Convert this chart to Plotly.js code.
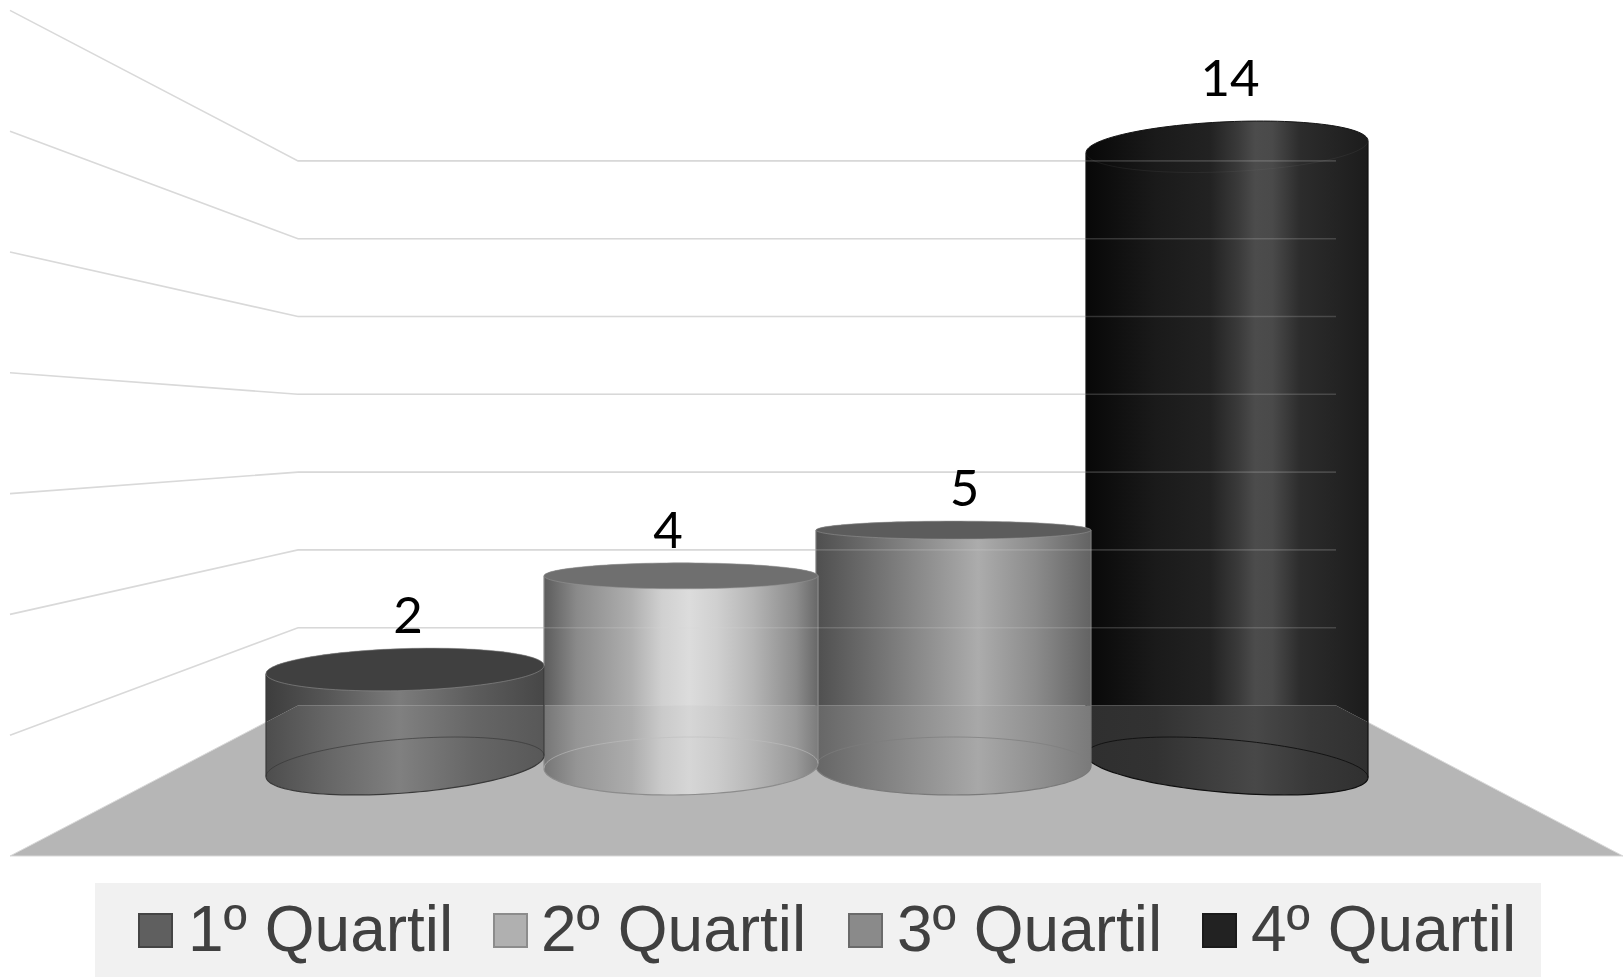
<!DOCTYPE html>
<html>
<head>
<meta charset="utf-8">
<script src="https://cdn.plot.ly/plotly-3.0.1.min.js"></script>
<style>html,body{margin:0;padding:0;background:#fff}#chart{width:1623px;height:977px}</style>
</head>
<body>
<div id="chart"></div>
<script>
// Chart content
const categories = ['1º Quartil', '2º Quartil', '3º Quartil', '4º Quartil'];
const values = [2, 4, 5, 14];
const wallTicks = [2, 4, 6, 8, 10, 12, 14];

// Cylinder geometry, in scene units (one unit per pixel)
const leftEdges = [266, 544, 816, 1086];
const rightEdges = [544, 818, 1091, 1368];
const baseTilt = [10.5, 2.5, 0, -11.5];
const baseMinor = [27, 28.9, 29, 26.6];
const capMinor = [21, 13, 9, 25];
const capTilt = [4, 0, 0, 6];
const labelDx = [3, -13, 11, 3];
const labelDy = [28, 28, 28, 39];

// Shading of each cylinder: above the floor line, inside the floor zone, top face, outline
const bodyShades = [
  [[0, '#3d3d3d'], [0.22, '#565656'], [0.48, '#7c7c7c'], [0.75, '#5c5c5c'], [1, '#474747']],
  [[0, '#5c5c5c'], [0.12, '#8a8a8a'], [0.32, '#afafaf'], [0.43, '#d0d0d0'], [0.53, '#dcdcdc'], [0.63, '#d0d0d0'], [0.76, '#b6b6b6'], [0.92, '#8c8c8c'], [1, '#686868']],
  [[0, '#4f4f4f'], [0.2, '#6e6e6e'], [0.59, '#acacac'], [0.8, '#8b8b8b'], [1, '#636363']],
  [[0, '#080808'], [0.25, '#1a1a1a'], [0.44, '#222222'], [0.54, '#3a3a3a'], [0.6, '#4c4c4c'], [0.66, '#4a4a4a'], [0.76, '#2c2c2c'], [1, '#1c1c1c']]
];
const floorShades = [
  [[0, '#4d4d4d'], [0.22, '#666666'], [0.48, '#808080'], [0.75, '#666666'], [1, '#585858']],
  [[0, '#767676'], [0.12, '#959595'], [0.32, '#adadad'], [0.43, '#cacaca'], [0.53, '#d6d6d6'], [0.63, '#cccccc'], [0.76, '#b8b8b8'], [0.92, '#999999'], [1, '#7c7c7c']],
  [[0, '#666666'], [0.2, '#7c7c7c'], [0.59, '#a8a8a8'], [0.8, '#919191'], [1, '#7a7a7a']],
  [[0, '#2f2f2f'], [0.25, '#323232'], [0.6, '#484848'], [0.8, '#383838'], [1, '#303030']]
];
const capColors = ['#404040', '#6f6f6f', '#5c5c5c', null];
const outlineColors = ['#3a3a3a', '#8c8c8c', '#7a7a7a', '#101010'];
const backArcColors = ['rgba(50,50,50,.6)', 'rgba(190,190,190,.6)', 'rgba(125,125,125,.7)', 'rgba(15,15,15,.9)'];
const swatchFills = ['#5f5f5f', '#b0b0b0', '#8a8a8a', '#222222'];
const swatchLines = ['#444444', '#8c8c8c', '#6a6a6a', '#1a1a1a'];
const swatchLeft = [139, 494, 849, 1203];
const legendTextLeft = [187, 540, 896, 1250];

// Scene frame: floor, back wall and perspective of the value scale
const floorFrontY = 856, floorBackY = 705.5, frontLeftX = 10, frontRightX = 1623;
const backLeftX = 298, backRightX = 1336, baseY = 766;
const backY = v => floorBackY - 38.9 * v;
const frontY = v => floorFrontY - 60.4 * v;
const cylinderHeight = v => 49 * v / (1 + 0.0077 * v);

function seamY(x) {
  if (x < backLeftX) return floorBackY + (backLeftX - x) * (floorFrontY - floorBackY) / (backLeftX - frontLeftX);
  if (x > backRightX) return floorBackY + (x - backRightX) * (floorFrontY - floorBackY) / (frontRightX - backRightX);
  return floorBackY;
}

// Arc of a sheared ellipse from angle t0 to t1
function arc(cx, cy, a, b, tilt, t0, t1) {
  const xs = [], ys = [], n = 60;
  for (let k = 0; k <= n; k++) {
    const t = t0 + (t1 - t0) * k / n;
    xs.push(cx + a * Math.cos(t));
    ys.push(cy - b * Math.sin(t) - tilt * Math.cos(t));
  }
  return [xs, ys];
}

function seamPath(x0, x1) {
  const xs = [x0];
  if (x0 < backLeftX && x1 > backLeftX) xs.push(backLeftX);
  if (x0 < backRightX && x1 > backRightX) xs.push(backRightX);
  xs.push(x1);
  return [xs, xs.map(seamY)];
}

const traces = [];
const flat = (x, y, color, width) => ({
  x, y, type: 'scatter', mode: 'lines', hoverinfo: 'skip',
  line: { color, width, simplify: false }
});

// Side wall and back wall gridlines
wallTicks.forEach(v => {
  traces.push(flat([frontLeftX, backLeftX, backRightX], [frontY(v), backY(v), backY(v)], '#d9d9d9', 1.6));
});

// Floor
traces.push(Object.assign(flat(
  [frontLeftX, backLeftX, backRightX, frontRightX, frontLeftX],
  [floorFrontY, floorBackY, floorBackY, floorFrontY, floorFrontY], '#d9d9d9', 1), {
  fill: 'toself', fillcolor: '#b6b6b6'
}));

// Cylinders, nearest neighbour last so each one overlaps the next to its right
[3, 2, 1, 0].forEach(i => {
  const x0 = leftEdges[i], x1 = rightEdges[i];
  const cx = (x0 + x1) / 2, a = (x1 - x0) / 2;
  const topY = baseY - cylinderHeight(values[i]);
  const capUp = arc(cx, topY, a, capMinor[i], capTilt[i], Math.PI, 0);
  const capDown = arc(cx, topY, a, capMinor[i], capTilt[i], 0, -Math.PI);
  const baseFront = arc(cx, baseY, a, baseMinor[i], baseTilt[i], 0, -Math.PI);
  const baseBack = arc(cx, baseY, a, baseMinor[i], baseTilt[i], Math.PI, 0);
  const seam = seamPath(x0, x1);

  // Part standing against the wall
  const upper = flat(
    capUp[0].concat(seam[0].slice().reverse()),
    capUp[1].concat(seam[1].slice().reverse()), 'rgba(0,0,0,0)', 0);
  upper.fill = 'toself';
  upper.fillgradient = { type: 'horizontal', colorscale: bodyShades[i] };
  traces.push(upper);

  // Part standing on the floor
  const lower = flat(seam[0].concat(baseFront[0]), seam[1].concat(baseFront[1]), 'rgba(0,0,0,0)', 0);
  lower.fill = 'toself';
  lower.fillgradient = { type: 'horizontal', colorscale: floorShades[i] };
  traces.push(lower);

  // Outline: sides and front of the base, then the rear of the base
  traces.push(flat(
    [x1].concat(baseFront[0]).concat([x0]),
    [capUp[1][60]].concat(baseFront[1]).concat([capUp[1][0]]),
    outlineColors[i], 1.2));
  traces.push(flat(baseBack[0], baseBack[1], backArcColors[i], 1));

  // Top face
  if (capColors[i]) {
    const capFace = flat(capUp[0].concat(capDown[0]), capUp[1].concat(capDown[1]), 'rgba(150,150,150,.55)', 1);
    capFace.fill = 'toself';
    capFace.fillcolor = capColors[i];
    traces.push(capFace);
  } else {
    traces.push(flat(capDown[0], capDown[1], 'rgba(110,110,110,.14)', 1));
    traces.push(flat(capUp[0], capUp[1], '#151515', 1));
  }
});

// Gridlines showing faintly across the cylinders
wallTicks.forEach(v => {
  traces.push(flat([backLeftX, backRightX], [backY(v), backY(v)], 'rgba(217,217,217,.2)', 1.6));
});

// Value labels
traces.push({
  type: 'scatter', mode: 'text', hoverinfo: 'skip',
  x: values.map((v, i) => (leftEdges[i] + rightEdges[i]) / 2 + labelDx[i]),
  y: values.map((v, i) => baseY - cylinderHeight(v) - capMinor[i] - labelDy[i]),
  text: values.map(String),
  textposition: 'middle center',
  textfont: { family: 'Lato, sans-serif', size: 51, color: '#000000' }
});

// Legend panel and its entries
const shapes = [{
  type: 'rect', xref: 'x', yref: 'y', x0: 95, x1: 1541, y0: 883, y1: 977,
  fillcolor: '#f1f1f1', line: { width: 0 }, layer: 'below'
}];
categories.forEach((c, i) => shapes.push({
  type: 'rect', xref: 'x', yref: 'y', x0: swatchLeft[i], x1: swatchLeft[i] + 33, y0: 914, y1: 947,
  fillcolor: swatchFills[i], line: { color: swatchLines[i], width: 2 }
}));
const annotations = categories.map((c, i) => ({
  xref: 'x', yref: 'y', x: legendTextLeft[i], y: 929, text: c, showarrow: false,
  xanchor: 'left', yanchor: 'middle', borderpad: 0,
  font: { family: '"Liberation Sans", Arial, sans-serif', size: 64, color: '#404040' }
}));

const layout = {
  width: 1623, height: 977,
  margin: { l: 0, r: 0, t: 0, b: 0, pad: 0 },
  paper_bgcolor: '#ffffff', plot_bgcolor: '#ffffff',
  showlegend: false,
  xaxis: { range: [0, 1623], visible: false, fixedrange: true },
  yaxis: { range: [977, 0], visible: false, fixedrange: true },
  shapes, annotations
};

Plotly.newPlot('chart', traces, layout, { displayModeBar: false, staticPlot: true });
</script>
</body>
</html>
